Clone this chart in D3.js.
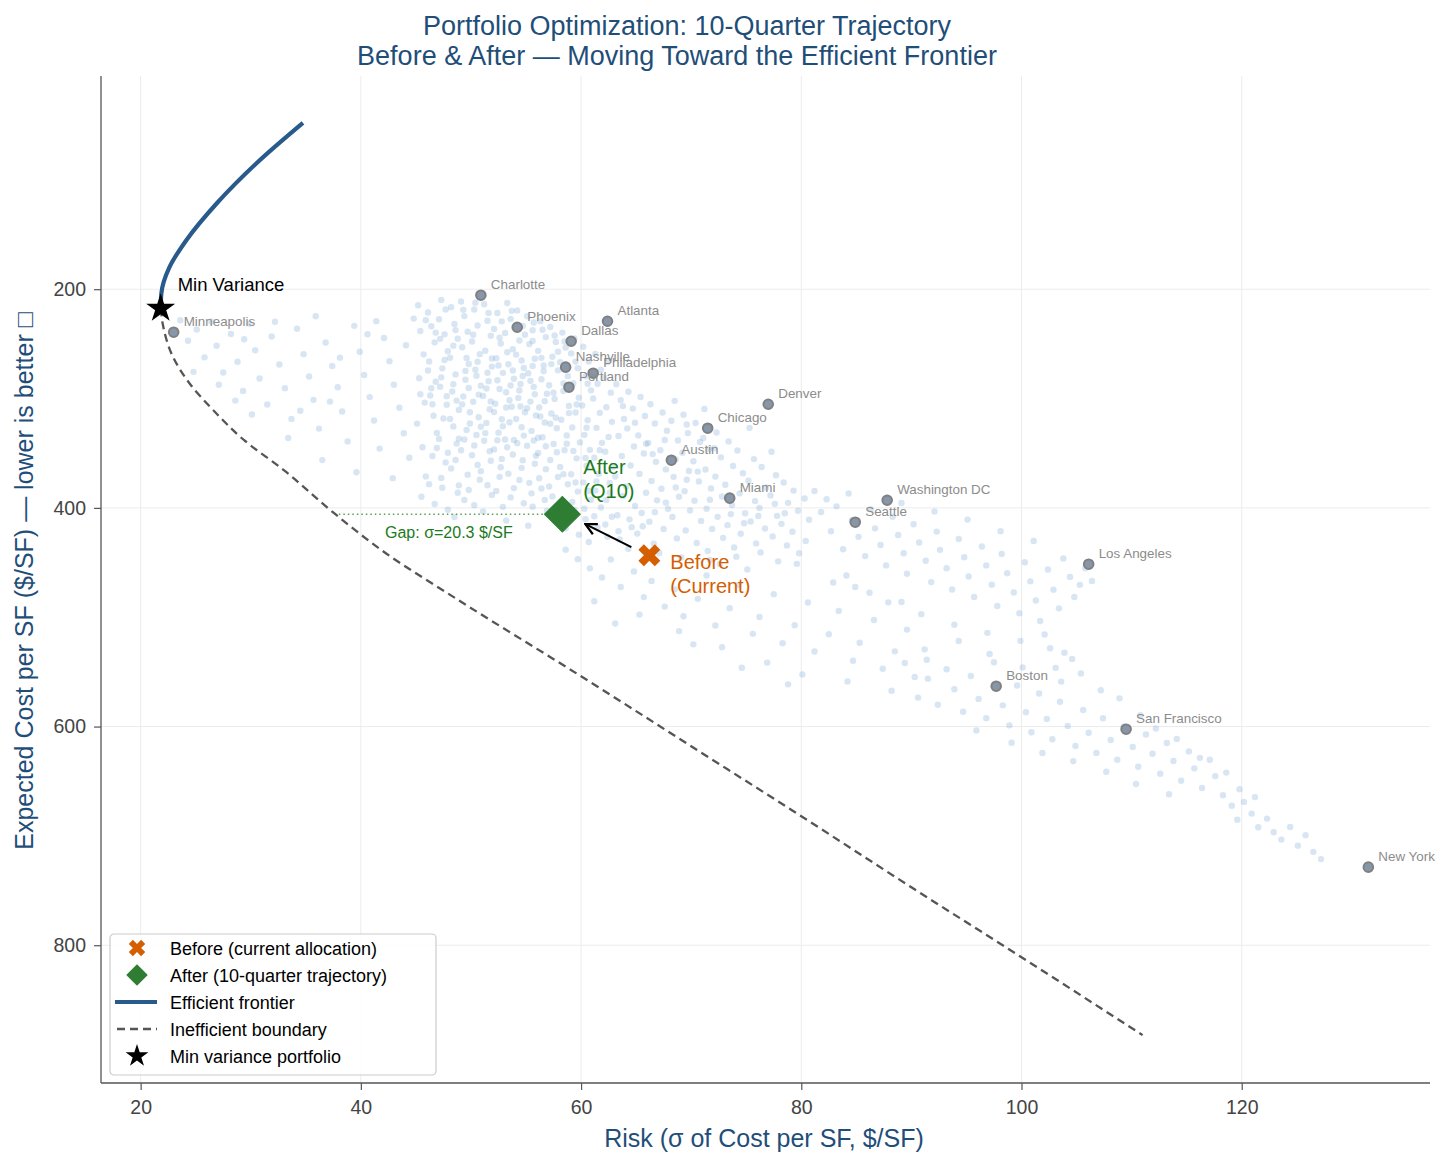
<!DOCTYPE html>
<html>
<head>
<meta charset="utf-8">
<script src="https://cdn.jsdelivr.net/npm/d3@7"></script>
<style>
  body { margin: 0; background: #fff; }
  svg text { font-family: "Liberation Sans", Arial, Helvetica, sans-serif; }
</style>
</head>
<body>
<script>
// ---- data ----
var cityNames = ["Charlotte","Phoenix","Atlanta","Dallas","Nashville","Philadelphia","Portland","Minneapolis",
  "Denver","Chicago","Austin","Miami","Washington DC","Seattle","Los Angeles","Boston","San Francisco","New York"];
var cityRisk = [50.9, 54.2, 62.4, 59.1, 58.6, 61.1, 58.9, 23.0, 77.0, 71.5, 68.2, 73.5, 87.8, 84.9, 106.1, 97.7, 109.5, 131.5];
var cityCost = [205.5, 234.8, 229.3, 247.6, 271.3, 276.8, 289.6, 239.3, 305.2, 327.1, 356.4, 391.1, 393.0, 413.1, 451.5, 563.1, 602.4, 728.6];

// efficient frontier (risk, cost), from its top end down to min variance
var frontierRisk = [34.74, 30.5, 26.9, 24.15, 22.63, 21.88, 21.82];
var frontierCost = [47.9, 85.0, 121.6, 155.2, 179.6, 203.9, 217.6];

// inefficient boundary from min variance downward
var boundaryRisk = [21.82, 22.03, 22.94, 24.45, 26.6, 29.4, 33.0, 37.6, 42.3, 48.4, 60, 70, 80, 90, 100, 111.0];
var boundaryCost = [217.6, 232.9, 261.9, 286.2, 310.7, 338.1, 365.5, 405.1, 441.7, 481.4, 554, 618, 682, 747, 811, 882.2];

var minVar = [21.82, 217.6];
var before = [66.2, 443.3];
var after = [58.3, 405.8];
var gapStart = 38.0;
var gapValue = 20.3;

var xTicks = [20, 40, 60, 80, 100, 120];
var yTicks = [200, 400, 600, 800];

// simulated portfolios (risk, cost), read region by region
var cloudLeft = [
  [23.6,228.4],[24.3,247.1],[25.1,236.8],[25.8,262.3],[26.4,229.5],[26.9,251.7],[27.5,276.2],[28.2,240.9],[28.8,266.4],[29.3,293.1],
  [29.9,231.6],[30.4,255.8],[30.8,281.7],[31.5,305.4],[31.9,243.2],[32.6,268.9],[33.1,290.5],[33.7,318.6],[34.2,236.1],[34.8,259.4],
  [35.3,279.8],[35.7,301.2],[36.2,327.5],[36.8,248.7],[37.4,270.3],[37.9,289.6],[38.3,311.9],[38.8,339.2],[39.4,233.5],[39.9,257.2],
  [40.3,278.4],[40.8,298.7],[41.2,320.1],[41.7,345.8],[42.1,244.6],[42.6,265.9],[43.0,287.3],[43.5,308.4],[43.9,331.7],[44.4,354.2],
  [44.8,226.9],[29.4,245.8],[32.2,229.7],[35.9,224.8],[38.1,262.6],[40.6,241.2],[27.1,287.4],[30.1,314.6],[33.4,336.1],[36.5,356.3],
  [39.6,367.4],[42.9,372.8],[24.8,275.6],[44.1,251.3],[41.4,229.2],[37.2,302.8],[34.5,311.2],[28.6,301.9]
];
var cloudCore = [
  [45.2,214.7],[45.4,238.2],[45.7,259.6],[45.3,281.4],[45.8,303.7],[45.1,322.9],[45.6,344.5],[45.9,371.2],[45.5,389.8],
  [46.1,221.3],[46.4,233.9],[46.7,248.6],[46.2,266.1],[46.8,284.7],[46.3,297.2],[46.6,315.8],[46.9,331.4],[46.5,352.6],[46.2,378.3],[46.7,396.5],
  [47.3,209.8],[47.1,227.5],[47.6,241.3],[47.9,256.7],[47.4,272.4],[47.2,289.1],[47.8,305.6],[47.5,318.2],[47.1,336.9],[47.7,358.4],[47.4,381.6],[47.9,401.7],
  [48.2,216.4],[48.5,231.8],[48.8,245.2],[48.1,262.7],[48.6,277.9],[48.3,293.5],[48.9,310.4],[48.4,325.6],[48.7,341.2],[48.2,363.9],[48.8,386.1],[48.5,408.3],
  [49.1,211.2],[49.4,224.6],[49.7,238.9],[49.2,253.1],[49.8,268.4],[49.5,282.7],[49.3,298.1],[49.9,312.5],[49.6,328.7],[49.1,347.3],[49.7,369.6],[49.4,392.8],
  [50.3,218.5],[50.6,233.2],[50.1,247.8],[50.8,259.4],[50.4,273.6],[50.9,288.2],[50.2,302.9],[50.7,317.1],[50.5,333.4],[50.1,351.8],[50.8,374.2],[50.3,397.5],
  [51.2,213.7],[51.5,228.9],[51.8,242.5],[51.3,256.3],[51.9,270.8],[51.6,284.1],[51.1,297.6],[51.7,309.8],[51.4,322.4],[51.2,338.6],[51.8,356.9],[51.5,379.3],[51.1,403.2],
  [52.4,221.8],[52.1,236.4],[52.7,249.7],[52.3,263.2],[52.9,276.5],[52.6,291.3],[52.2,304.7],[52.8,318.9],[52.5,331.2],[52.1,346.5],[52.7,362.8],[52.3,384.6],[52.9,399.1],
  [53.3,212.6],[53.6,227.3],[53.1,240.1],[53.8,254.8],[53.4,268.6],[53.9,281.9],[53.2,294.3],[53.7,307.5],[53.5,321.7],[53.1,337.4],[53.8,351.2],[53.4,368.7],[53.6,390.4],[53.2,411.5],
  [54.2,219.4],[54.7,233.6],[54.4,246.9],[54.1,259.8],[54.8,272.1],[54.5,286.7],[54.3,299.4],[54.9,312.6],[54.6,326.3],[54.2,340.8],[54.7,356.4],[54.4,374.5],[54.8,395.7],
  [55.1,224.7],[55.6,237.5],[55.3,250.2],[55.8,263.6],[55.2,276.9],[55.7,289.3],[55.4,302.8],[55.9,315.4],[55.5,329.6],[55.1,343.2],[55.8,359.7],[55.3,377.1],[55.6,398.9],[55.2,416.3],
  [56.3,229.2],[56.8,243.8],[56.1,256.4],[56.6,269.7],[56.4,282.3],[56.9,295.6],[56.2,308.2],[56.7,321.9],[56.5,335.4],[56.1,349.8],[56.8,364.6],[56.4,382.3],[56.9,402.6],
  [57.2,234.6],[57.7,248.3],[57.4,261.8],[57.9,274.2],[57.1,287.8],[57.6,300.4],[57.3,313.7],[57.8,327.1],[57.5,341.6],[57.2,356.2],[57.9,371.8],[57.4,389.5],[57.7,409.4],
  [58.3,239.7],[58.6,253.4],[58.1,266.8],[58.8,279.5],[58.4,293.1],[58.9,306.8],[58.2,319.4],[58.7,333.8],[58.5,347.2],[58.1,362.6],[58.8,378.4],[58.3,395.2],[58.6,418.7],
  [59.4,245.1],[59.1,258.7],[59.7,272.3],[59.3,285.9],[59.8,299.2],[59.5,312.8],[59.2,326.4],[59.9,340.1],[59.6,354.7],[59.1,369.3],[59.7,385.1],[59.4,401.8],[59.8,424.6],
  [60.2,252.6],[60.7,266.1],[60.4,279.7],[60.9,292.5],[60.1,306.3],[60.6,319.8],[60.3,333.2],[60.8,346.9],[60.5,361.4],[60.2,376.7],[60.9,392.5],[60.4,410.3],[60.7,431.2],
  [61.3,259.3],[61.8,273.6],[61.5,286.4],[61.1,299.9],[61.7,313.1],[61.4,326.8],[61.9,340.5],[61.2,354.1],[61.6,368.8],[61.3,384.2],[61.8,399.6],[61.5,417.9],
  [62.4,266.7],[62.1,281.2],[62.7,294.6],[62.3,307.9],[62.8,321.3],[62.5,335.1],[62.2,348.7],[62.9,362.4],[62.6,377.2],[62.3,392.8],[62.8,408.1],[62.4,426.4],
  [48.4,251.6],[49.6,262.9],[50.5,279.1],[51.4,290.8],[52.6,244.3],[53.5,301.6],[54.6,265.2],[55.4,283.8],[56.3,316.4],[57.5,294.7],
  [50.9,325.8],[52.1,312.4],[53.9,337.9],[55.6,247.4],[49.2,305.3],[47.6,264.7],[46.4,290.6],[48.9,336.7],[51.7,348.1],[54.1,318.7],
  [56.6,274.8],[57.9,257.1],[53.3,257.6],[50.2,241.6],[52.4,283.2],[55.1,308.9],[58.4,286.2],[49.8,290.4],[51.9,263.4],[54.4,292.6],
  [47.2,245.4],[53.8,274.3],[56.1,335.8],[57.2,323.1],[48.1,318.6],[52.8,355.2],[55.9,352.4],[50.6,360.7]
];
var cloudCoreDense = [
  [45.9,228.3],[46.8,239.7],[47.7,218.6],[48.6,237.4],[49.3,218.9],[50.4,212.3],[51.6,221.7],[52.8,229.4],[53.7,219.8],[54.9,241.6],
  [55.7,230.5],[56.5,237.1],[57.6,242.3],[58.5,247.8],[46.1,274.3],[47.3,280.6],[48.4,286.9],[49.5,274.7],[50.6,266.3],[51.5,276.4],
  [52.5,269.8],[53.6,288.1],[54.7,279.4],[55.6,270.2],[56.4,262.8],[57.3,268.5],[58.6,272.9],[59.5,266.2],[60.6,286.4],[45.4,296.1],
  [46.5,305.2],[47.8,297.8],[48.7,301.9],[49.9,322.8],[50.7,296.4],[51.8,302.6],[52.9,325.4],[53.2,308.2],[54.5,307.3],[55.8,296.1],
  [56.7,302.4],[57.7,317.6],[58.9,313.3],[59.6,305.4],[60.5,326.7],[46.9,345.2],[47.9,349.6],[48.6,356.2],[49.4,337.5],[50.3,342.9],
  [51.3,331.6],[52.4,338.1],[53.3,344.6],[54.8,333.9],[55.7,338.4],[56.8,343.6],[57.8,349.1],[58.7,341.4],[59.3,347.9],[60.4,354.3],
  [61.7,347.2],[47.3,372.6],[48.9,379.4],[49.8,383.7],[50.9,366.4],[51.9,388.2],[52.6,371.6],[53.9,381.9],[54.6,363.4],[55.5,386.7],
  [56.2,372.9],[57.1,380.4],[58.4,369.2],[59.5,376.8],[60.7,384.6],[61.4,375.9],[62.6,386.1],[56.7,392.7],[57.9,403.1],[59.2,394.6],
  [60.3,400.8],[61.2,407.6],[62.2,415.2],[63.4,421.3],[64.4,410.5],[65.6,416.8],[66.7,403.9],[67.7,395.2],[68.6,381.4],[69.6,374.3],
  [70.6,366.8],[63.8,306.9],[64.9,322.1],[65.9,341.3],[66.5,350.8],[67.6,337.9],[68.6,355.6],[69.6,323.7],[71.1,336.1],[72.1,345.4],
  [71.7,392.6],[73.6,405.7],[74.8,414.1],[76.1,407.4],[77.6,396.3],[78.5,404.9]
];
var cloudMid = [
  [63.2,286.9],[63.6,301.4],[63.9,318.7],[63.4,334.2],[63.7,352.6],[63.1,371.3],[63.8,389.4],[63.3,406.8],[63.5,428.9],
  [64.3,293.8],[64.7,309.2],[64.2,327.3],[64.8,343.9],[64.5,361.2],[64.1,380.5],[64.9,398.3],[64.6,417.6],[64.3,437.4],
  [65.4,298.6],[65.8,315.9],[65.2,333.7],[65.7,350.3],[65.3,368.9],[65.9,386.2],[65.5,404.7],[65.1,423.5],
  [66.3,305.2],[66.7,322.8],[66.1,340.6],[66.8,357.9],[66.4,375.4],[66.9,393.1],[66.2,412.6],[66.6,432.8],
  [67.4,312.7],[67.8,329.4],[67.2,347.2],[67.7,364.8],[67.3,382.5],[67.9,400.9],[67.5,419.3],[67.1,441.2],
  [68.5,302.1],[68.2,320.3],[68.8,338.4],[68.4,371.6],[68.9,389.8],[68.3,408.4],[68.7,427.9],
  [69.3,314.8],[69.7,331.6],[69.2,349.5],[69.8,366.2],[69.4,384.7],[69.9,402.3],[69.5,420.6],[69.1,445.3],
  [70.4,322.4],[70.8,339.7],[70.2,357.3],[70.7,375.8],[70.3,393.4],[70.9,411.9],[70.5,432.1],
  [71.2,309.6],[71.6,346.2],[71.3,364.9],[71.8,382.3],[71.4,400.7],[71.9,419.2],[71.5,439.5],
  [72.3,331.1],[72.7,353.8],[72.2,371.4],[72.8,389.6],[72.4,408.2],[72.9,427.4],[72.6,451.3],
  [73.4,339.2],[73.8,361.7],[73.1,378.9],[73.7,397.4],[73.3,415.8],[73.9,436.2],
  [74.2,347.5],[74.7,368.3],[74.4,386.7],[74.9,404.9],[74.5,423.7],[74.1,444.6],
  [75.3,326.8],[75.7,355.4],[75.2,375.2],[75.8,393.8],[75.4,412.4],[75.9,432.5],
  [76.4,362.6],[76.8,381.4],[76.2,400.1],[76.7,418.9],[76.3,440.7],
  [77.3,348.7],[77.7,370.2],[77.2,388.6],[77.8,407.3],[77.4,426.1],[77.9,448.9],
  [78.4,376.8],[78.8,395.4],[78.2,414.6],[78.7,434.3],[79.3,384.2],[79.7,402.6],[79.2,421.8],[79.8,441.5],
  [80.3,391.4],[80.7,410.8],[80.4,430.2]
];
var cloudLow = [
  [58.6,438.2],[59.7,446.9],[60.8,455.3],[61.9,463.7],[62.7,447.1],[63.6,472.4],[64.8,458.2],[65.7,481.6],[66.4,466.9],[67.6,490.3],
  [68.5,474.5],[69.3,499.1],[70.6,483.2],[71.4,461.8],[72.2,507.6],[73.5,491.7],[74.3,470.4],[75.6,515.2],[76.2,499.8],[77.5,478.9],
  [78.3,523.7],[79.4,507.3],[80.6,486.6],[81.2,531.4],[82.5,515.6],[83.4,494.2],[84.7,539.8],[85.3,523.4],[86.6,502.5],[87.4,547.1],
  [88.5,531.2],[89.6,511.3],[90.3,554.6],[91.4,538.9],[68.9,512.7],[72.8,527.4],[76.9,541.5],[80.1,552.3],[84.2,558.7],[65.3,497.6],
  [61.2,485.4],[63.1,505.8],[70.2,524.8],[74.6,546.2],[78.8,561.4],[82.9,468.3],[86.2,477.6],[89.1,486.1],[71.7,447.6],[75.1,456.4],
  [79.6,451.2],[84.1,461.9]
];
var cloudRight = [
  [81.2,384.6],[81.8,403.7],[82.3,392.1],[82.7,421.4],[83.2,398.6],[83.8,437.8],[84.3,386.9],[84.6,411.2],[85.2,426.5],[85.8,444.1],
  [86.3,401.3],[86.7,418.7],[87.2,433.9],[87.7,452.6],[88.3,408.2],[88.8,424.8],[89.3,441.5],[89.6,460.2],[90.2,414.9],[90.7,431.6],
  [91.3,448.3],[91.8,467.9],[92.3,421.7],[92.6,438.4],[93.2,455.1],[93.7,474.6],[94.3,428.5],[94.8,445.2],[95.2,462.8],[95.7,481.4],
  [96.4,435.3],[96.8,452.6],[97.3,470.2],[97.8,489.7],[98.2,442.1],[98.7,459.8],[99.3,477.4],[99.8,496.3],[100.3,449.7],[100.8,467.2],
  [101.3,484.6],[101.7,503.5],[102.4,456.3],[102.9,474.8],[103.4,491.9],[103.8,446.2],[104.4,463.1],[104.8,481.5],[105.3,470.4],[105.8,455.2],
  [106.4,466.8],[84.9,472.3],[87.9,486.4],[90.9,497.2],[93.9,506.8],[96.9,514.3],[99.9,521.6],[102.6,528.4],[89.1,395.6],[92.1,403.2],
  [95.1,410.7],[98.1,421.3],[101.1,430.2]
];
var cloudTail = [
  [88.2,567.3],[89.4,541.8],[90.6,573.5],[91.5,556.2],[92.4,580.1],[93.2,547.6],[93.9,565.9],[94.7,586.4],[95.4,553.8],[96.1,574.7],
  [96.8,592.3],[97.5,541.2],[98.3,580.6],[98.9,598.9],[99.6,562.4],[100.4,586.8],[100.9,605.2],[101.6,569.7],[102.3,593.1],[102.8,611.6],
  [103.5,577.3],[103.9,532.4],[104.2,599.4],[104.9,617.8],[105.6,584.9],[106.1,605.7],[106.8,624.1],[107.4,592.4],[108.1,612.3],[108.7,630.4],
  [109.3,599.8],[110.1,618.6],[110.6,636.7],[111.3,607.2],[111.9,624.9],[112.6,643.2],[113.2,615.1],[113.8,631.5],[114.5,649.6],[115.2,622.7],
  [115.7,638.2],[116.4,656.1],[117.1,630.4],[117.6,645.3],[118.3,662.8],[119.1,672.4],[119.6,685.3],[120.2,668.9],[120.9,679.6],[121.5,692.1],
  [122.3,684.2],[122.9,696.7],[123.6,703.4],[124.4,691.8],[125.1,708.9],[125.8,699.3],[126.5,714.6],[127.2,721.2],[102.1,515.8],[103.1,546.3],
  [103.6,558.9],[104.6,538.1],[105.4,551.4],[107.2,566.8],[108.9,574.2],[110.8,589.5],[112.2,601.7],[114.1,611.3],[116.2,628.6],[118.6,642.1],
  [119.8,657.4],[121.2,664.5],[91.2,529.4],[94.3,521.7],[97.1,533.6],[100.1,545.9],[95.9,603.5],[99.1,614.8],[101.9,624.2],[104.7,631.7],
  [107.7,641.3],[110.4,652.6],[113.4,661.9]
];

var legendLabels = ["Before (current allocation)", "After (10-quarter trajectory)", "Efficient frontier", "Inefficient boundary", "Min variance portfolio"];

// ---- drawing ----
var W = 1456, H = 1166;
var blue = "#1f4e79", orange = "#d55e00", green = "#2e7d32", darkGreen = "#1b7a1b", lineBlue = "#285a8c";

var svg = d3.select("body").append("svg").attr("width", W).attr("height", H);

var x = d3.scaleLinear().domain([16.4, 137.1]).range([101, 1430]);
var y = d3.scaleLinear().domain([5, 926]).range([76, 1083]);

// grid
svg.append("g").selectAll("line").data(xTicks).enter().append("line")
  .attr("x1", function(d){ return x(d); }).attr("x2", function(d){ return x(d); })
  .attr("y1", 76).attr("y2", 1083).attr("stroke", "#ececec").attr("stroke-width", 1);
svg.append("g").selectAll("line").data(yTicks).enter().append("line")
  .attr("x1", 101).attr("x2", 1430)
  .attr("y1", function(d){ return y(d); }).attr("y2", function(d){ return y(d); })
  .attr("stroke", "#ececec").attr("stroke-width", 1);

// cloud
var cloud = cloudLeft.concat(cloudCore, cloudCoreDense, cloudMid, cloudLow, cloudRight, cloudTail);
svg.append("g").selectAll("circle").data(cloud).enter().append("circle")
  .attr("cx", function(d){ return x(d[0]); })
  .attr("cy", function(d){ return y(d[1]); })
  .attr("r", 3.2)
  .attr("fill", "#7fa9d6")
  .attr("fill-opacity", 0.3);

// frontier lines (cost is the running variable, so interpolate along y)
var line = d3.line().x(function(d){ return x(d[0]); }).y(function(d){ return y(d[1]); }).curve(d3.curveMonotoneY);
var frontier = frontierRisk.map(function(r, i){ return [r, frontierCost[i]]; });
var boundary = boundaryRisk.map(function(r, i){ return [r, boundaryCost[i]]; });

svg.append("path").datum(boundary).attr("d", line)
  .attr("fill", "none").attr("stroke", "#555").attr("stroke-width", 2.3).attr("stroke-dasharray", "8,5");
svg.append("path").datum(frontier).attr("d", line)
  .attr("fill", "none").attr("stroke", lineBlue).attr("stroke-width", 4.2);

// gap line + label
svg.append("line")
  .attr("x1", x(gapStart)).attr("x2", x(after[0]))
  .attr("y1", y(after[1])).attr("y2", y(after[1]))
  .attr("stroke", "#5a9e5a").attr("stroke-width", 1.4).attr("stroke-dasharray", "1.5,3");
svg.append("text").attr("x", 385).attr("y", y(after[1]) + 24)
  .attr("font-size", 16).attr("fill", darkGreen).text("Gap: σ=" + gapValue.toFixed(1) + " $/SF");

// cities
var cities = cityNames.map(function(n, i){ return {name: n, r: cityRisk[i], c: cityCost[i]}; });
var cg = svg.append("g");
cg.selectAll("circle").data(cities).enter().append("circle")
  .attr("cx", function(d){ return x(d.r); }).attr("cy", function(d){ return y(d.c); })
  .attr("r", 4.8).attr("fill", "#8796a8").attr("stroke", "#808080").attr("stroke-width", 2);
cg.selectAll("text").data(cities).enter().append("text")
  .attr("x", function(d){ return x(d.r) + 10; }).attr("y", function(d){ return y(d.c) - 6; })
  .attr("font-size", 13.4).attr("fill", "#8c8c8c").text(function(d){ return d.name; });

// arrow before -> after
svg.append("defs").append("marker")
  .attr("id", "ah").attr("viewBox", "0 0 10 10").attr("refX", 9).attr("refY", 5)
  .attr("markerWidth", 7).attr("markerHeight", 7).attr("orient", "auto")
  .append("path").attr("d", "M1,1 L9,5 L1,9").attr("fill", "none").attr("stroke", "#000").attr("stroke-width", 1.6);
var ax0 = x(before[0]) - 18, ay0 = y(before[1]) - 8, ax1 = x(after[0]) + 23, ay1 = y(after[1]) + 10;
svg.append("line").attr("x1", ax0).attr("y1", ay0).attr("x2", ax1).attr("y2", ay1)
  .attr("stroke", "#000").attr("stroke-width", 2).attr("marker-end", "url(#ah)");

// markers
svg.append("path")
  .attr("d", d3.symbol().type(d3.symbolSquare).size(640)())
  .attr("transform", "translate(" + x(after[0]) + "," + y(after[1]) + ") rotate(45)")
  .attr("fill", green).attr("stroke", green).attr("stroke-width", 1);
svg.append("path")
  .attr("d", d3.symbol().type(d3.symbolCross).size(300)())
  .attr("transform", "translate(" + x(before[0]) + "," + y(before[1]) + ") rotate(45)")
  .attr("fill", orange);
svg.append("path")
  .attr("d", d3.symbol().type(d3.symbolStar).size(260)())
  .attr("transform", "translate(" + x(minVar[0]) + "," + y(minVar[1]) + ")")
  .attr("fill", "#000");

// annotations
svg.append("text").attr("x", x(minVar[0]) + 17).attr("y", y(minVar[1]) - 17)
  .attr("font-size", 18.5).attr("fill", "#000").text("Min Variance");
var at = svg.append("text").attr("font-size", 20).attr("fill", darkGreen);
at.append("tspan").attr("x", x(after[0]) + 21).attr("y", y(after[1]) - 40).text("After");
at.append("tspan").attr("x", x(after[0]) + 21).attr("y", y(after[1]) - 16).text("(Q10)");
var bt = svg.append("text").attr("font-size", 20).attr("fill", orange);
bt.append("tspan").attr("x", x(before[0]) + 21).attr("y", y(before[1]) + 14).text("Before");
bt.append("tspan").attr("x", x(before[0]) + 21).attr("y", y(before[1]) + 38).text("(Current)");

// axes
var xAxis = svg.append("g").attr("transform", "translate(0,1083)")
  .call(d3.axisBottom(x).tickValues(xTicks).tickSize(7).tickPadding(10));
var yAxis = svg.append("g").attr("transform", "translate(101,0)")
  .call(d3.axisLeft(y).tickValues(yTicks).tickSize(7).tickPadding(8));
[xAxis, yAxis].forEach(function(g){
  g.select(".domain").attr("stroke", "#555").attr("stroke-width", 1.3);
  g.selectAll(".tick line").attr("stroke", "#555").attr("stroke-width", 1.2);
  g.selectAll(".tick text").attr("font-size", 19.5).attr("fill", "#444")
    .style("font-family", '"Liberation Sans", Arial, sans-serif');
});
xAxis.select(".domain").attr("d", "M101,0H1430");
yAxis.select(".domain").attr("d", "M0,76V1083");

// titles and labels
svg.append("text").attr("x", 687).attr("y", 35).attr("text-anchor", "middle")
  .attr("font-size", 27).attr("fill", blue).text("Portfolio Optimization: 10-Quarter Trajectory");
svg.append("text").attr("x", 677).attr("y", 65).attr("text-anchor", "middle")
  .attr("font-size", 27).attr("fill", blue).text("Before & After — Moving Toward the Efficient Frontier");
svg.append("text").attr("x", 764).attr("y", 1147).attr("text-anchor", "middle")
  .attr("font-size", 25).attr("fill", blue).text("Risk (σ of Cost per SF, $/SF)");
svg.append("text").attr("transform", "translate(33,581) rotate(-90)").attr("text-anchor", "middle")
  .attr("font-size", 25).attr("fill", blue).text("Expected Cost per SF ($/SF) — lower is better □");

// legend
var lg = svg.append("g").attr("transform", "translate(110,934)");
lg.append("rect").attr("width", 326).attr("height", 141).attr("rx", 4)
  .attr("fill", "#fff").attr("fill-opacity", 0.85).attr("stroke", "#ccc").attr("stroke-width", 1.2);
var rows = lg.selectAll("g.row").data(legendLabels).enter().append("g")
  .attr("transform", function(d, i){ return "translate(0," + (14 + i * 27) + ")"; });
rows.append("text").attr("x", 60).attr("y", 6.5).attr("font-size", 18).attr("fill", "#000")
  .text(function(d){ return d; });
var rn = rows.nodes().map(function(n){ return d3.select(n); });
rn[0].append("path").attr("d", d3.symbol().type(d3.symbolCross).size(170)())
  .attr("transform", "translate(27,0) rotate(45)").attr("fill", orange);
rn[1].append("path").attr("d", d3.symbol().type(d3.symbolSquare).size(230)())
  .attr("transform", "translate(27,0) rotate(45)").attr("fill", green);
rn[2].append("line").attr("x1", 5).attr("x2", 47).attr("y1", 0).attr("y2", 0)
  .attr("stroke", lineBlue).attr("stroke-width", 4.2);
rn[3].append("line").attr("x1", 7).attr("x2", 47).attr("y1", 0).attr("y2", 0)
  .attr("stroke", "#555").attr("stroke-width", 2.3).attr("stroke-dasharray", "8,5");
rn[4].append("path").attr("d", d3.symbol().type(d3.symbolStar).size(160)())
  .attr("transform", "translate(27,0)").attr("fill", "#000");
</script>
</body>
</html>
